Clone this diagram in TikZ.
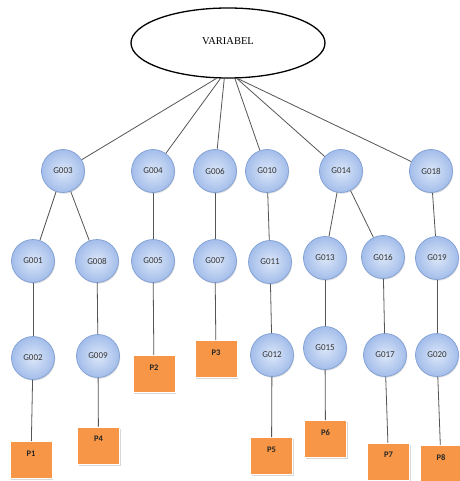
\documentclass[tikz,border=0pt]{standalone}
\usepackage{fontspec}
\setmainfont{Liberation Serif}
\newfontfamily\calfont{Carlito}
\usetikzlibrary{shapes.geometric,shadows}
\definecolor{gborder}{HTML}{7F9FD3}
\definecolor{ginner}{HTML}{DCE7F9}
\definecolor{gouter}{HTML}{A3BDEA}
\definecolor{porange}{HTML}{F79646}
\definecolor{edgecol}{HTML}{555555}
\tikzset{
  rootnode/.style={ellipse, draw=black, line width=1.3pt, fill=white,
    minimum width=194pt, minimum height=70pt, inner sep=0pt,
    font=\fontsize{10.5}{12}\selectfont},
  gnode/.style={circle, minimum size=43pt, inner sep=0pt, draw=gborder,
    line width=0.7pt, inner color=ginner, outer color=gouter,
    drop shadow={shadow xshift=0.8pt, shadow yshift=-1.2pt, opacity=0.25},
    font=\calfont\fontsize{9}{10}\selectfont, text=black!80},
  pbox/.style={rectangle, minimum width=42pt, minimum height=37pt, inner sep=0pt,
    fill=porange, draw=white, line width=1pt,
    drop shadow={shadow xshift=1pt, shadow yshift=-1.5pt, opacity=0.3},
    font=\calfont\bfseries\fontsize{8.5}{9}\selectfont, text=black!85,
    text height=6pt, text depth=14pt},
  conn/.style={draw=edgecol, line width=0.8pt}
}
\begin{document}
\begin{tikzpicture}[x=1pt,y=-1pt]
\useasboundingbox (0,0) rectangle (459,481);
\fill[white] (0,0) rectangle (459,481);
\node[rootnode] (root) at (228,43) {\raisebox{4pt}{VARIABEL}};
% row 1
\node[gnode] (g003) at (63,171) {G003};
\node[gnode] (g004) at (153,171) {G004};
\node[gnode] (g006) at (215,171) {G006};
\node[gnode] (g010) at (267,171) {G010};
\node[gnode] (g014) at (341,171) {G014};
\node[gnode] (g018) at (431,171) {G018};
% row 2
\node[gnode] (g001) at (33,261) {G001};
\node[gnode] (g008) at (97,261) {G008};
\node[gnode] (g005) at (153,261) {G005};
\node[gnode] (g007) at (215,261) {G007};
\node[gnode] (g011) at (270,262) {G011};
\node[gnode] (g013) at (325,258) {G013};
\node[gnode] (g016) at (383,257) {G016};
\node[gnode] (g019) at (437,258) {G019};
% row 3
\node[gnode] (g002) at (33,358) {G002};
\node[gnode] (g009) at (98,356) {G009};
\node[gnode] (g012) at (272,355) {G012};
\node[gnode] (g015) at (325,348) {G015};
\node[gnode] (g017) at (385,355) {G017};
\node[gnode] (g020) at (437,355) {G020};
% boxes
\node[pbox] (p1) at (31,460) {P1};
\node[pbox] (p4) at (98.5,445.5) {P4};
\node[pbox] (p2) at (154,374) {P2};
\node[pbox] (p3) at (216,359) {P3};
\node[pbox] (p5) at (271.5,456) {P5};
\node[pbox] (p6) at (325.5,439) {P6};
\node[pbox] (p7) at (388.5,461.5) {P7};
\node[pbox] (p8) at (441,464) {P8};
% connectors
\path[conn] (root.252) -- (g003);
\path[conn] (root.258) -- (g004);
\path[conn] (root.264) -- (g006);
\path[conn] (root.281) -- (g010);
\path[conn] (root.284) -- (g014);
\path[conn] (root.285) -- (g018);
\path[conn] (g003) -- (g001);
\path[conn] (g003) -- (g008);
\path[conn] (g004) -- (g005);
\path[conn] (g006) -- (g007);
\path[conn] (g010) -- (g011);
\path[conn] (g014) -- (g013);
\path[conn] (g014) -- (g016);
\path[conn] (g018) -- (g019);
\path[conn] (g001) -- (g002);
\path[conn] (g008) -- (g009);
\path[conn] (g011) -- (g012);
\path[conn] (g013) -- (g015);
\path[conn] (g016) -- (g017);
\path[conn] (g019) -- (g020);
\path[conn] (g002) -- (p1);
\path[conn] (g009) -- (p4);
\path[conn] (g005) -- (p2);
\path[conn] (g007) -- (p3);
\path[conn] (g012) -- (p5);
\path[conn] (g015) -- (p6);
\path[conn] (g017) -- (p7);
\path[conn] (g020) -- (p8);
\end{tikzpicture}
\end{document}
